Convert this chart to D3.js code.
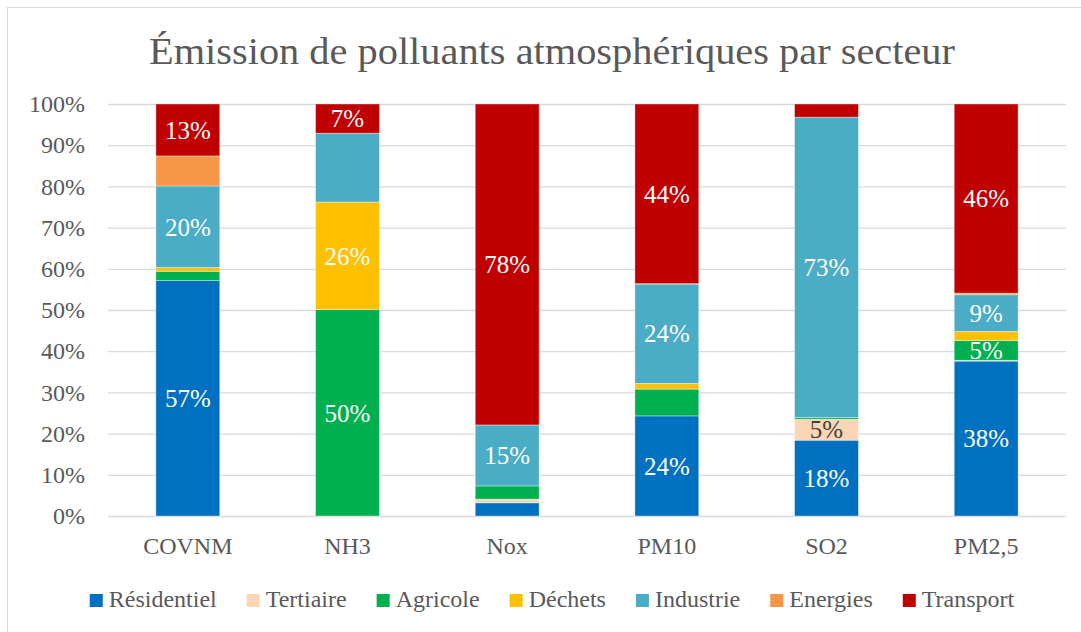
<!DOCTYPE html>
<html>
<head>
<meta charset="utf-8">
<script src="https://cdn.jsdelivr.net/npm/d3@7"></script>
<style>
  body { margin: 0; background: #fff; }
</style>
</head>
<body>
<div class="chart"></div>
<script>
// DATA
// ----------------------------
const categories = ['COVNM', 'NH3', 'Nox', 'PM10', 'SO2', 'PM2,5']
const series = ['Résidentiel', 'Tertiaire', 'Agricole', 'Déchets', 'Industrie', 'Energies', 'Transport']
const colors = ['#0070C0', '#FCD5B5', '#00B050', '#FFC000', '#4BACC6', '#F79646', '#C00000']

// percentage share of each sector, per pollutant
const residentiel = [57.2, 0, 3.2, 24.3, 18.4, 37.6]
const tertiaire = [0, 0, 0.9, 0, 5.1, 0.2]
const agricole = [2.2, 50.1, 3.2, 6.5, 0.4, 4.8]
const dechets = [0.9, 26.1, 0, 1.4, 0, 2.2]
const industrie = [19.8, 16.7, 14.8, 24.1, 72.9, 8.9]
const energies = [7.3, 0, 0, 0.1, 0, 0.4]
const transport = [12.6, 7.1, 77.9, 43.6, 3.2, 45.9]

const yTicks = [0, 10, 20, 30, 40, 50, 60, 70, 80, 90, 100]

// which segments carry a data label: [pollutant, sector]
const shownLabels = [
  ['COVNM', 'Résidentiel'], ['COVNM', 'Industrie'], ['COVNM', 'Transport'],
  ['NH3', 'Agricole'], ['NH3', 'Déchets'], ['NH3', 'Transport'],
  ['Nox', 'Industrie'], ['Nox', 'Transport'],
  ['PM10', 'Résidentiel'], ['PM10', 'Industrie'], ['PM10', 'Transport'],
  ['SO2', 'Résidentiel'], ['SO2', 'Tertiaire'], ['SO2', 'Industrie'],
  ['PM2,5', 'Résidentiel'], ['PM2,5', 'Agricole'], ['PM2,5', 'Industrie'], ['PM2,5', 'Transport'],
]

const values = [residentiel, tertiaire, agricole, dechets, industrie, energies, transport]
const table = categories.map((c, i) => {
  const row = { cat: c }
  series.forEach((s, j) => { row[s] = values[j][i] })
  return row
})

// SETUP
// ----------------------------
const fullWidth = 1081
const fullHeight = 632
const margin = { top: 104, bottom: 116, left: 108, right: 15 }
const width = fullWidth - margin.left - margin.right
const height = fullHeight - margin.top - margin.bottom
const textColor = '#595959'
const font = "'Liberation Serif', 'Times New Roman', serif"

const root = d3.select('.chart')
  .append('svg')
    .attr('width', fullWidth)
    .attr('height', fullHeight)
    .attr('font-family', font)
    .style('font-family', font)

// chart area frame (only top & left edges visible in the crop)
root.append('rect')
  .attr('x', 7.5).attr('y', 7.5)
  .attr('width', 1200).attr('height', 800)
  .attr('fill', 'none')
  .attr('stroke', '#D9D9D9')

root.append('text')
  .attr('x', 552)
  .attr('y', 64)
  .attr('text-anchor', 'middle')
  .attr('textLength', 806)
  .attr('lengthAdjust', 'spacingAndGlyphs')
  .style('font-family', font)
  .style('font-size', '38px')
  .style('fill', textColor)
  .text('Émission de polluants atmosphériques par secteur')

const svg = root.append('g')
  .attr('transform', `translate(${margin.left}, ${margin.top})`)

// SCALES & AXES
// ----------------------------
const yScale = d3.scaleLinear()
  .domain([0, 100])
  .range([height, 0])

const yAxis = d3.axisLeft(yScale)
  .tickValues(yTicks)
  .tickFormat(d => d + '%')
  .tickSizeInner(-width)
  .tickSizeOuter(0)
  .tickPadding(23)

const gy = svg.append('g').call(yAxis)
gy.select('.domain').remove()
gy.selectAll('line').attr('stroke', '#D9D9D9').attr('stroke-width', 1.3)
gy.selectAll('text')
  .style('font-size', '24px')
  .style('fill', textColor)
  .style('font-family', font)

const xScale = d3.scaleBand()
  .domain(categories)
  .range([0, width])
  .paddingInner(0.6)
  .paddingOuter(0.3)

const xAxis = d3.axisBottom(xScale)
  .tickSize(0)
  .tickPadding(21)

const gx = svg.append('g')
  .attr('transform', `translate(0, ${height})`)
  .call(xAxis)
gx.select('.domain').remove()
gx.selectAll('text')
  .style('font-size', '24px')
  .style('fill', textColor)
  .style('font-family', font)

// STACKED BARS
// ----------------------------
const stacked = d3.stack().keys(series)(table)

const layers = svg.selectAll('.layer')
  .data(stacked)
  .enter()
  .append('g')
    .attr('class', 'layer')
    .attr('fill', (d, i) => colors[i])

layers.selectAll('rect')
  .data(d => d)
  .enter()
  .append('rect')
    .attr('x', d => xScale(d.data.cat))
    .attr('y', d => yScale(d[1]))
    .attr('width', xScale.bandwidth())
    .attr('height', d => yScale(d[0]) - yScale(d[1]))
    .attr('stroke', '#fff')
    .attr('stroke-opacity', 0.45)
    .attr('stroke-width', 0.8)

// DATA LABELS
// ----------------------------
const labelData = []
stacked.forEach(layer => {
  layer.forEach(d => {
    if (shownLabels.some(p => p[0] === d.data.cat && p[1] === layer.key)) {
      labelData.push({ cat: d.data.cat, key: layer.key, y0: d[0], y1: d[1], v: d.data[layer.key] })
    }
  })
})

svg.selectAll('.label')
  .data(labelData)
  .enter()
  .append('text')
    .attr('class', 'label')
    .attr('x', d => xScale(d.cat) + xScale.bandwidth() / 2)
    .attr('y', d => yScale((d.y0 + d.y1) / 2))
    .attr('dy', '0.35em')
    .attr('text-anchor', 'middle')
    .style('font-family', font)
    .style('font-size', '25px')
    .style('fill', d => d.key === 'Tertiaire' ? '#404040' : '#fff')
    .text(d => Math.round(d.v) + '%')

// LEGEND
// ----------------------------
const legend = root.append('g')
const items = legend.selectAll('g')
  .data(series)
  .enter()
  .append('g')

items.append('rect')
  .attr('width', 13).attr('height', 13)
  .attr('y', -13)
  .attr('fill', (d, i) => colors[i])

items.append('text')
  .attr('x', 19)
  .style('font-family', font)
  .style('font-size', '24px')
  .style('fill', textColor)
  .text(d => d)

const gap = 30
let cursor = 0
items.each(function () {
  const w = 19 + this.querySelector('text').getComputedTextLength()
  d3.select(this).attr('transform', `translate(${cursor}, 0)`)
  cursor += w + gap
})
const legendWidth = cursor - gap
legend.attr('transform', `translate(${552 - legendWidth / 2}, 607)`)
</script>
</body>
</html>
